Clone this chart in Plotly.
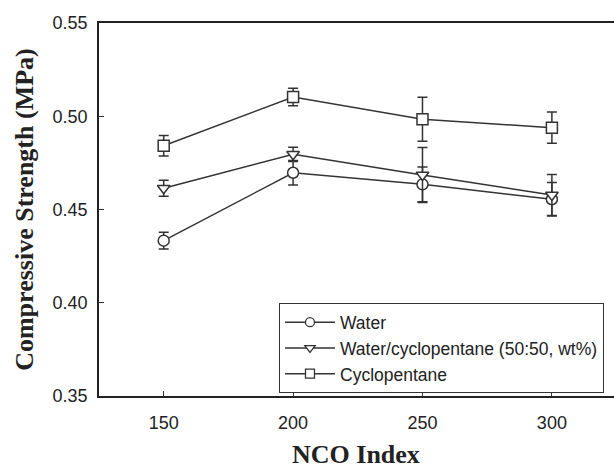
import plotly.graph_objects as go

nco_index = [150, 200, 250, 300]
series_names = ["Water", "Water/cyclopentane (50:50, wt%)", "Cyclopentane"]
water = [0.4333, 0.4697, 0.4635, 0.4555]
water_err = [0.0045, 0.0066, 0.0093, 0.0090]
mixed = [0.4614, 0.4796, 0.4685, 0.4578]
mixed_err = [0.0043, 0.0038, 0.0148, 0.0110]
cyclo = [0.4842, 0.5103, 0.4984, 0.4939]
cyclo_err = [0.0055, 0.0047, 0.0118, 0.0084]
y_ticks = [0.35, 0.40, 0.45, 0.50, 0.55]
x_ticks = [150, 200, 250, 300]

ink = "#333333"
symbols = ["circle", "triangle-down", "square"]
fig = go.Figure()
for name, vals, errs, sym in zip(series_names, [water, mixed, cyclo],
                                 [water_err, mixed_err, cyclo_err], symbols):
    fig.add_trace(go.Scatter(
        x=nco_index, y=vals, name=name, mode="lines+markers", showlegend=False,
        line=dict(color=ink, width=1.5),
        marker=dict(symbol=sym, size=11, color="white",
                    line=dict(color=ink, width=1.5)),
        error_y=dict(type="data", array=errs, visible=True, color=ink,
                     thickness=1.5, width=5),
    ))
# legend entries (smaller symbols, as in the original legend)
for name, sym in zip(series_names, symbols):
    fig.add_trace(go.Scatter(
        x=[None], y=[None], name=name, mode="lines+markers",
        line=dict(color=ink, width=1.5),
        marker=dict(symbol=sym, size=9, color="white",
                    line=dict(color=ink, width=1.3)),
    ))

tick_font = dict(family="Liberation Sans, Arial", size=18, color="#222")
title_font = dict(family="Liberation Serif, Times New Roman", size=26, color="#222")
fig.update_layout(
    width=614, height=468,
    margin=dict(l=99, r=0, t=23, b=72),
    paper_bgcolor="white", plot_bgcolor="white",
    showlegend=True,
    legend=dict(x=0.3495, y=0.2485, xanchor="left", yanchor="top",
                bordercolor=ink, borderwidth=1, bgcolor="white",
                font=dict(family="Liberation Sans, Arial", size=17.5, color="#222"),
                itemwidth=50, tracegroupgap=0),
    xaxis=dict(range=[125, 324], tickvals=x_ticks, ticks="inside", ticklen=5,
               tickcolor=ink, showline=True, linecolor="#222", linewidth=2,
               mirror=True, showgrid=False, zeroline=False,
               ticklabelstandoff=9, tickfont=tick_font),
    yaxis=dict(range=[0.35, 0.55], tickvals=y_ticks, tickformat=".2f",
               ticks="inside", ticklen=5, tickcolor=ink, showline=True,
               linecolor="#222", linewidth=1.5, showgrid=False, zeroline=False,
               ticklabelstandoff=6, tickfont=tick_font),
    annotations=[
        dict(text="<b>NCO Index</b>", xref="paper", yref="paper", x=0.4985, y=-0.157,
             xanchor="center", yanchor="middle", showarrow=False, font=title_font),
        dict(text="<b>Compressive Strength (MPa)</b>", xref="paper", yref="paper",
             x=-0.145, y=0.5, xanchor="center", yanchor="middle", textangle=-90,
             showarrow=False, font=title_font),
    ],
)
fig.write_html("out.html")
